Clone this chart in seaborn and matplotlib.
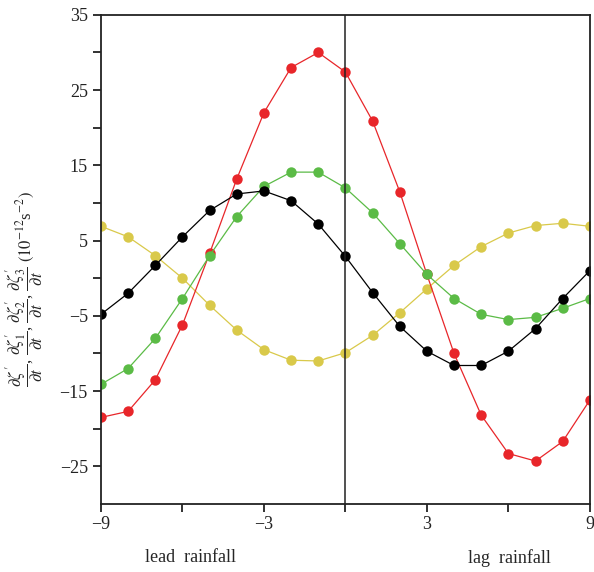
import numpy as np
import pandas as pd
import matplotlib
matplotlib.use("Agg")
import matplotlib.pyplot as plt
from matplotlib.ticker import FixedLocator
import seaborn as sns

# ── data (lag in days, tendency in 1e-12 s^-2) ───────────────────────────────
lags = list(range(-9, 10))
zeta_total = [-18.5, -17.7, -13.5, -6.2, 3.3, 13.2, 22.0, 28.0, 30.0, 27.4,
              20.9, 11.5, 0.5, -10.0, -18.2, -23.3, -24.3, -21.7, -16.2]
zeta_1 = [-14.1, -12.0, -8.0, -2.7, 3.0, 8.2, 12.2, 14.1, 14.1, 12.0,
          8.7, 4.6, 0.5, -2.7, -4.8, -5.5, -5.2, -4.0, -2.7]
zeta_2 = [-4.8, -2.0, 1.7, 5.5, 9.0, 11.2, 11.6, 10.3, 7.2, 2.9,
          -1.9, -6.4, -9.7, -11.6, -11.6, -9.7, -6.7, -2.7, 1.0]
zeta_3 = [6.9, 5.5, 3.0, 0.0, -3.6, -6.9, -9.5, -10.9, -11.0, -9.9,
          -7.6, -4.6, -1.4, 1.7, 4.2, 6.0, 7.0, 7.3, 6.9]

series = ["z3", "total", "z1", "z2"]
colors = {"total": "#E8262A", "z1": "#5BBB46", "z2": "#000000", "z3": "#D9C94A"}

df = pd.DataFrame({"lag": lags * 4,
                   "value": zeta_total + zeta_1 + zeta_2 + zeta_3,
                   "series": (["total"] * 19 + ["z1"] * 19 +
                              ["z2"] * 19 + ["z3"] * 19)})

# ── style ────────────────────────────────────────────────────────────────────
sns.set_style("white")
plt.rcParams.update({
    "font.family": ["Liberation Serif", "DejaVu Serif"],
    "mathtext.fontset": "stix",
    "font.size": 13,
    "axes.linewidth": 1.3,
    "axes.edgecolor": "#222222",
})

fig = plt.figure(figsize=(5.94, 5.72), dpi=100)
ax = fig.add_axes([0.170, 0.119, 0.823, 0.855])

for s in series:
    sub = df[df["series"] == s]
    sns.lineplot(data=sub, x="lag", y="value", ax=ax, color=colors[s],
                 marker="o", markersize=7.5, markeredgewidth=0,
                 linewidth=0.9, legend=False)

ax.axvline(0, color="#222222", lw=1.1)

ax.set_xlim(-9, 9)
ax.set_ylim(-30, 35)
ax.xaxis.set_major_locator(FixedLocator([-9, -3, 3, 9]))
ax.xaxis.set_minor_locator(FixedLocator([-6, 0, 6]))
ax.yaxis.set_major_locator(FixedLocator([-25, -15, -5, 5, 15, 25, 35]))
ax.yaxis.set_minor_locator(FixedLocator([-20, -10, 0, 10, 20, 30]))
ax.tick_params(which="both", direction="out", length=6, width=1.3,
               bottom=True, left=True, top=False, right=False,
               colors="#222222", labelsize=13)
ax.tick_params(axis="x", pad=3)

ax.set_xlabel("")
ax.set_ylabel(r"$\dfrac{\partial\zeta'}{\partial t}$, "
              r"$\dfrac{\partial\zeta_1'}{\partial t}$, "
              r"$\dfrac{\partial\zeta_2'}{\partial t}$, "
              r"$\dfrac{\partial\zeta_3'}{\partial t}$ "
              r"$(10^{-12}$s$^{-2})$", fontsize=12)
ax.yaxis.set_label_coords(-0.112, 0.44)

ax.text(-5.7, -0.11, "lead  rainfall", transform=ax.get_xaxis_transform(),
        ha="center", va="center", fontsize=13)
ax.text(6.05, -0.11, "lag  rainfall", transform=ax.get_xaxis_transform(),
        ha="center", va="center", fontsize=13)

fig.savefig("out.png", dpi=100)
